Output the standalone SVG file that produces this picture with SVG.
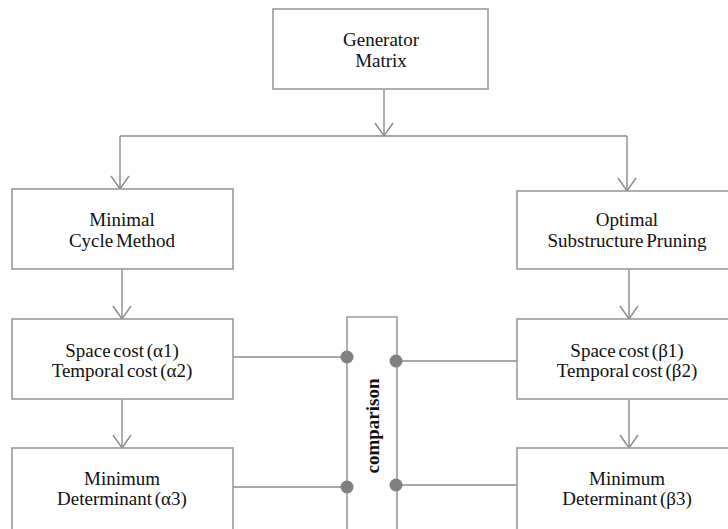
<svg xmlns="http://www.w3.org/2000/svg" width="728" height="529" viewBox="0 0 728 529">
  <style>
    .box { fill: #ffffff; stroke: #9a9a9a; stroke-width: 1.6; }
    .wire { fill: none; stroke: #8c8c8c; stroke-width: 1.4; }
    .label { font-family: "Liberation Serif", "DejaVu Serif", serif; font-size: 19px; fill: #111111; text-anchor: middle; word-spacing: -2px; }
    .bold { font-weight: bold; word-spacing: 0; }
    .dot { fill: #808080; }
  </style>
  <defs>
    <!-- open V arrowhead, drawn pointing along +x -->
    <marker id="vee" markerUnits="userSpaceOnUse" markerWidth="16" markerHeight="20" refX="14" refY="10" orient="auto" viewBox="0 0 16 20">
      <path d="M1,1 L14,10 L1,19" fill="none" stroke="#8c8c8c" stroke-width="1.4"/>
    </marker>
  </defs>
  <rect width="728" height="529" fill="#ffffff"/>

  <g id="connectors">
    <!-- trunk from the generator matrix, split to both methods -->
    <path class="wire" d="M384,89 V136" marker-end="url(#vee)"/>
    <path class="wire" d="M120,136 H627"/>
    <path class="wire" d="M120,136 V189" marker-end="url(#vee)"/>
    <path class="wire" d="M627,136 V191" marker-end="url(#vee)"/>
    <!-- left column -->
    <path class="wire" d="M122,269 V319" marker-end="url(#vee)"/>
    <path class="wire" d="M122,399 V448" marker-end="url(#vee)"/>
    <!-- right column -->
    <path class="wire" d="M629,269 V319" marker-end="url(#vee)"/>
    <path class="wire" d="M629,399 V448" marker-end="url(#vee)"/>
    <!-- links into the comparison bar -->
    <path class="wire" d="M233,357 H347"/>
    <path class="wire" d="M233,487 H347"/>
    <path class="wire" d="M397,361 H517"/>
    <path class="wire" d="M397,485 H517"/>
  </g>

  <g id="generator-matrix">
    <rect class="box" x="273" y="9" width="215" height="80"/>
    <text class="label" x="381" y="46">Generator</text>
    <text class="label" x="381" y="67">Matrix</text>
  </g>

  <g id="minimal-cycle">
    <rect class="box" x="12" y="189" width="221" height="80"/>
    <text class="label" x="122" y="226">Minimal</text>
    <text class="label" x="122" y="247">Cycle Method</text>
  </g>

  <g id="optimal-pruning">
    <rect class="box" x="517" y="191" width="220" height="78"/>
    <text class="label" x="627" y="226">Optimal</text>
    <text class="label" x="627" y="247">Substructure Pruning</text>
  </g>

  <g id="cost-alpha">
    <rect class="box" x="12" y="319" width="221" height="80"/>
    <text class="label" x="122" y="357">Space cost (α1)</text>
    <text class="label" x="122" y="377">Temporal cost (α2)</text>
  </g>

  <g id="cost-beta">
    <rect class="box" x="517" y="319" width="220" height="80"/>
    <text class="label" x="627" y="357">Space cost (β1)</text>
    <text class="label" x="627" y="377">Temporal cost (β2)</text>
  </g>

  <g id="determinant-alpha">
    <rect class="box" x="12" y="448" width="221" height="90"/>
    <text class="label" x="122" y="485">Minimum</text>
    <text class="label" x="122" y="505">Determinant (α3)</text>
  </g>

  <g id="determinant-beta">
    <rect class="box" x="517" y="448" width="220" height="90"/>
    <text class="label" x="627" y="485">Minimum</text>
    <text class="label" x="627" y="505">Determinant (β3)</text>
  </g>

  <g id="comparison">
    <path class="box" d="M347,540 V317 H397 V540"/>
    <text class="label bold" transform="translate(379,426) rotate(-90)">comparison</text>
    <circle class="dot" cx="347" cy="357" r="6.5"/>
    <circle class="dot" cx="347" cy="487" r="6.5"/>
    <circle class="dot" cx="396" cy="361" r="6.5"/>
    <circle class="dot" cx="396" cy="485" r="6.5"/>
  </g>
</svg>
